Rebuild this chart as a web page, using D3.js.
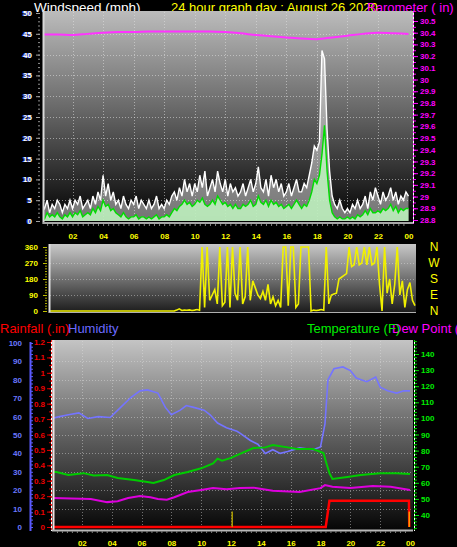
<!DOCTYPE html>
<html><head><meta charset="utf-8">
<script src="https://cdn.jsdelivr.net/npm/d3@7"></script>
<style>html,body{margin:0;padding:0;background:#000;}svg{display:block;}text{font-family:"Liberation Sans",Arial,sans-serif;}</style>
</head><body><svg id="c" width="457" height="547"></svg>
<script>
// ---------- DATA ----------
const hourTickValues = [2,4,6,8,10,12,14,16,18,20,22,24];
const hourTickLabels = ["02","04","06","08","10","12","14","16","18","20","22","00"];
// wind every 10 minutes (mph)
const windGust = [
4,3,5,2,4,3, 5,4,2,4,3,5, 3,5,4,6,3,4, 5,3,6,4,7,5, 11,6,9,5,7,4, 5,3,6,4,3,5,
4,6,3,5,4,3, 5,3,4,6,3,4, 3,5,4,6,7,5, 8,6,10,7,9,6, 9,7,11,8,12,6, 8,10,7,12,9,7,
10,6,9,7,8,6, 7,9,6,8,10,7, 9,13,8,7,10,6, 11,8,10,7,9,6, 7,9,6,8,10,7, 7,9,8,11,14,18,
17,19,41,39,22,12, 6,4,3,5,3,2, 3,2,4,3,5,3, 4,6,3,7,5,8, 6,4,7,5,6,8, 5,7,4,6,5,7, 6];
const windAvg = [
1,0.5,2,1,1.5,1, 2,1,0.5,1.5,1,2, 1,2,1.5,2.5,1,1.5, 2,1.5,3,2,3.5,2.5, 5,3.5,4,2.5,3,2, 1.5,1,2,1,0.5,1,
1,1.5,0.5,1,1,0.5, 1,0.5,1,1.5,0.5,1, 1,1.5,1,2,3,2.5, 3.5,4,5,4,4.5,3.5, 4,5,4.5,5.5,4,3.5, 4,5,4,6,5,4,
4.5,3.5,4,3,4,3, 3,4,3.5,4,5,3.5, 4,6,4.5,4,5,3.5, 5,4,4.5,3.5,4,3, 3.5,4,3,4,5,4, 3,4,3.5,5,7,10,
9,11,16,23,12,5, 2,1,0.5,1,0.5,0.5, 1,0.5,1,0.5,1.5,1, 1.5,2.5,1.5,3,2,2, 2.5,2,3,2.5,3,4, 2.5,3.5,2,3,2.5,3, 3];
// wind direction every 10 minutes (degrees)
const windDir = [
0,0,0,0,0,0, 0,0,0,0,0,0, 0,0,0,0,0,0, 0,0,0,0,0,0, 0,0,0,0,0,0, 0,0,0,0,0,0,
0,0,0,0,0,0, 0,0,0,0,0,0, 0,0,5,12,3,5, 4,6,3,5,8,4, 360,20,360,60,90,120, 40,360,30,50,360,20,
360,100,60,360,40,80, 360,60,170,130,90,70, 110,60,150,40,80,30, 60,20,360,360,30,360, 360,20,40,360,360,360, 360,0,5,3,5,8,
4,360,40,90,95,100, 180,190,200,210,360,250, 260,360,260,270,360,260, 360,260,270,360,150,0, 360,100,180,40,150,360, 90,170,20,120,160,60, 30];
const baroHour = [0,1,2,3,4,5,6,7,8,9,10,11,12,13,14,15,16,17,18,19,20,21,22,23,24];
const baroVal = [30.385,30.385,30.38,30.39,30.40,30.405,30.405,30.41,30.41,30.41,30.41,30.41,30.405,30.395,30.38,30.37,30.36,30.35,30.345,30.36,30.375,30.39,30.40,30.395,30.39];
const humHour = [0,0.5,1.1,1.8,2.4,3.1,3.9,4.6,5.3,5.9,6.4,7.1,7.6,8.0,8.6,9.0,9.5,10.2,10.6,11.1,11.7,12.4,12.6,13.3,13.8,14.3,14.8,15.3,15.8,16.6,17.5,18.0,18.3,18.5,18.9,19.5,20.0,20.4,21.1,21.7,22.0,22.5,23.1,23.6,24];
const humVal = [59,60,61,62,59,60,59.5,65,70.5,74,74.5,72.8,65,61,63.5,66,65,63.5,61,56.5,54,52,51,47,45,40,42,40,41,43,42,43.5,56,80,86,87,85,81,79,81.5,76,74,72.8,74,74];
const tempHour = [0,0.3,1.1,2.1,2.8,3.7,4.4,5.5,6.4,6.8,7.5,8.2,9.1,10.0,10.8,11.1,11.4,12.0,12.6,13.5,14.3,14.8,15.8,16.4,17.5,18.2,18.4,18.6,18.8,19.8,20.7,22.0,23.1,24];
const tempVal = [66.7,66.7,64.8,66,64.5,64.8,63,61.7,60.5,59.9,61.7,64.8,66.7,69,72,75,73.8,75.5,78,81.6,82,83.5,82,81,81,78.5,72,66,62.4,63.6,64.8,66,66,65.5];
const dewHour = [0,1.3,2.6,3.7,4.4,5.1,5.9,6.6,7.1,7.7,8.2,9.1,10.0,10.8,11.7,12.6,13.5,14.8,16.6,18.0,18.3,18.8,20.0,21.5,22.7,24];
const dewVal = [50.6,50.2,50,48,48.5,50.6,51.8,51,50,49.5,51,54.3,55.5,56.7,56,56.7,57,55,54.3,56.7,58.6,57.5,56.7,58,57.5,55.5];
const rainHour = [0,18.35,18.6,23.93,23.95];
const rainVal = [0,0,0.17,0.17,0];
const rateHour = [12.08,23.95];
const rateVal = [0.1,0.1];
const rateColor = ["#b0a000","#ff9900"];
const compassLabels = ["N","E","S","W","N"];

// ---------- SETUP ----------
const svg = d3.select("#c");
svg.append("rect").attr("width",457).attr("height",547).attr("fill","#000");
const defs = svg.append("defs");
function grad(id, stops){
  const g = defs.append("linearGradient").attr("id",id).attr("x1",0).attr("y1",0).attr("x2",0).attr("y2",1);
  stops.forEach(s=>g.append("stop").attr("offset",s[0]).attr("stop-color",s[1]));
}
grad("gTop",[[0,"#bcbcbc"],[0.45,"#6a6a6a"],[1,"#000"]]);
grad("gMid",[[0,"#c8c8c8"],[1,"#1a1a1a"]]);
grad("gBot",[[0,"#c4c4c4"],[0.5,"#606060"],[1,"#050505"]]);
function clip(id,x0,y0,x1,y1){defs.append("clipPath").attr("id",id).append("rect").attr("x",x0).attr("y",y0).attr("width",x1-x0).attr("height",y1-y0);}
const tx = 10/60;
const font = "Liberation Sans, Arial, sans-serif";

// ---------- TITLES ----------
svg.append("text").attr("x",34).attr("y",12).attr("fill","#fff").attr("font-size",13.5).text("Windspeed (mph)");
svg.append("text").attr("x",171).attr("y",12).attr("fill","#ffff00").attr("font-size",13).text("24 hour graph day : August 26 2020");
svg.append("text").attr("x",367).attr("y",12).attr("fill","#ff00ff").attr("font-size",13).text("Barometer ( in)");
svg.append("text").attr("x",0).attr("y",333).attr("fill","#ff0000").attr("font-size",13).text("Rainfall (.in)");
svg.append("text").attr("x",68).attr("y",333).attr("fill","#6a6aff").attr("font-size",13).text("Humidity");
svg.append("text").attr("x",392).attr("y",333).attr("fill","#ff00ff").attr("font-size",13).text("Dew Point (F)");
svg.append("text").attr("x",307).attr("y",333).attr("fill","#00ee00").attr("font-size",13).text("Temperature (F)");

function styleAxis(g, color, tickColor, size){
  g.select(".domain").remove();
  g.selectAll("line").attr("stroke",tickColor);
  g.selectAll("text").attr("fill",color).attr("font-size",size||8).attr("font-weight","bold").attr("font-family",font);
}
function hGrid(g, scale, vals, x0, x1, col){
  g.selectAll(null).data(vals).enter().append("line").attr("x1",x0).attr("x2",x1)
   .attr("y1",d=>Math.round(scale(d))+0.5).attr("y2",d=>Math.round(scale(d))+0.5)
   .attr("stroke",col).attr("stroke-dasharray","1,2");
}
function vGrid(g, scale, vals, y0, y1, col){
  g.selectAll(null).data(vals).enter().append("line").attr("y1",y0).attr("y2",y1)
   .attr("x1",d=>Math.round(scale(d))+0.5).attr("x2",d=>Math.round(scale(d))+0.5)
   .attr("stroke",col).attr("stroke-dasharray","1,2");
}

// ---------- TOP PANEL ----------
const xTop = d3.scaleLinear().domain([0,24]).range([42,408.5]);
const windY = d3.scaleLinear().domain([0,50]).range([221,13]);
const baroY = d3.scaleLinear().domain([28.8,30.5]).range([220,21]);
svg.append("rect").attr("x",43).attr("y",11).attr("width",370).attr("height",213).attr("fill","url(#gTop)");
const gridTop = svg.append("g");
hGrid(gridTop, windY, d3.range(5,50,5), 44, 412, "rgba(225,225,225,0.55)");
vGrid(gridTop, xTop, d3.range(2,24,2), 12, 222, "rgba(225,225,225,0.55)");
clip("cTop",44,11,413,222);
const pTop = svg.append("g").attr("clip-path","url(#cTop)");
const wi = windGust.map((d,i)=>i);
pTop.append("path").datum(wi).attr("fill","rgba(255,255,255,0.45)")
  .attr("d",d3.area().x(i=>xTop(i*tx)).y0(windY(0)).y1(i=>windY(windGust[i])));
pTop.append("path").datum(wi).attr("fill","none").attr("stroke","#ffffff").attr("stroke-width",1.4)
  .attr("d",d3.line().x(i=>xTop(i*tx)).y(i=>windY(windGust[i])));
pTop.append("path").datum(wi).attr("fill","rgba(190,240,190,0.9)")
  .attr("d",d3.area().x(i=>xTop(i*tx)).y0(windY(0)).y1(i=>windY(windAvg[i])));
pTop.append("path").datum(wi).attr("fill","none").attr("stroke","#00dd00").attr("stroke-width",1.4)
  .attr("d",d3.line().x(i=>xTop(i*tx)).y(i=>windY(windAvg[i])));
pTop.append("path").datum(baroHour.map((h,i)=>i)).attr("fill","none").attr("stroke","#ff33ff").attr("stroke-width",2)
  .attr("d",d3.line().curve(d3.curveMonotoneX).x(i=>xTop(baroHour[i])).y(i=>baroY(baroVal[i])));
// frame
svg.append("line").attr("x1",43.5).attr("x2",43.5).attr("y1",11).attr("y2",224).attr("stroke","#d8d8d8").attr("stroke-width",2);
svg.append("line").attr("x1",43).attr("x2",413).attr("y1",223).attr("y2",223).attr("stroke","#a8a8a8").attr("stroke-width",2);
// left axis
const lm = svg.append("g").attr("transform","translate(40,0)").call(d3.axisLeft(windY).tickValues(d3.range(0,51,1)).tickSize(2).tickFormat(""));
styleAxis(lm,"#fff","#909090");
const la = svg.append("g").attr("transform","translate(40,0)").call(d3.axisLeft(windY).tickValues(d3.range(0,51,5)).tickSize(4).tickPadding(4));
styleAxis(la,"#ffffff","#a0a0a0");
la.selectAll(".tick text").each(function(){
  const c=this.cloneNode(true); d3.select(c).attr("fill","#3a5cff").attr("x",+d3.select(this).attr("x")-1);
  this.parentNode.insertBefore(c,this);
});
// right axis barometer
svg.append("line").attr("x1",413.5).attr("x2",413.5).attr("y1",11).attr("y2",224).attr("stroke","#ffffff");
svg.append("line").attr("x1",413.5).attr("x2",413.5).attr("y1",11).attr("y2",224).attr("stroke","#ff30ff").attr("stroke-dasharray","2,2");
const rm = svg.append("g").attr("transform","translate(414,0)").call(d3.axisRight(baroY).tickValues(d3.range(576,611).map(d=>d/20)).tickSize(2).tickFormat(""));
styleAxis(rm,"#ff00ff","#ff00ff");
const ra = svg.append("g").attr("transform","translate(414,0)").call(d3.axisRight(baroY).tickValues(d3.range(288,306).map(d=>d/10)).tickSize(4).tickPadding(2).tickFormat(d=>Number.isInteger(d)?String(d):d.toFixed(1)));
styleAxis(ra,"#ff00ff","#ff00ff");
// bottom axis
const bm = svg.append("g").attr("transform","translate(0,224)").call(d3.axisBottom(xTop).tickValues(d3.range(1,72).map(d=>d/3)).tickSize(2).tickFormat(""));
styleAxis(bm,"#ff0","#808080");
const ba = svg.append("g").attr("transform","translate(0,224)").call(d3.axisBottom(xTop).tickValues(hourTickValues).tickSize(0).tickPadding(9).tickFormat((d,i)=>hourTickLabels[i]));
styleAxis(ba,"#ffff00","#808080");

// ---------- MIDDLE PANEL ----------
const xMid = d3.scaleLinear().domain([0,24]).range([50,415]);
const dirY = d3.scaleLinear().domain([0,360]).range([311,247]);
svg.append("rect").attr("x",49).attr("y",244).attr("width",367).attr("height",69).attr("fill","url(#gMid)");
const gridMid = svg.append("g");
hGrid(gridMid, dirY, [90,180,270], 50, 415, "rgba(225,225,225,0.45)");
clip("cMid",50,244,416,312);
const pMid = svg.append("g").attr("clip-path","url(#cMid)");
pMid.append("path").datum(windDir.map((d,i)=>i)).attr("fill","none").attr("stroke","#f0f000").attr("stroke-width",1.6)
  .attr("d",d3.line().x(i=>xMid(i*tx)).y(i=>dirY(windDir[i])));
svg.append("line").attr("x1",49.5).attr("x2",49.5).attr("y1",244).attr("y2",313).attr("stroke","#e0e0e0").attr("stroke-width",2);
svg.append("line").attr("x1",49).attr("x2",416).attr("y1",312.5).attr("y2",312.5).attr("stroke","#b0b0b0").attr("stroke-width",1);
const mm = svg.append("g").attr("transform","translate(47,0)").call(d3.axisLeft(dirY).tickValues(d3.range(0,361,15)).tickSize(2).tickFormat(""));
styleAxis(mm,"#ff0","#b0b000");
const ma = svg.append("g").attr("transform","translate(47,0)").call(d3.axisLeft(dirY).tickValues([0,90,180,270,360]).tickSize(4).tickPadding(5));
styleAxis(ma,"#ffff00","#c0c000");
const ca = svg.append("g").attr("transform","translate(434,0)").call(d3.axisRight(dirY).tickValues([0,90,180,270,360]).tickSize(0).tickPadding(0).tickFormat((d,i)=>compassLabels[i]));
ca.select(".domain").remove();
ca.selectAll("text").attr("fill","#ffff00").attr("font-size",12).attr("font-family",font).attr("text-anchor","middle").attr("x",0);

// ---------- BOTTOM PANEL ----------
const xBot = d3.scaleLinear().domain([0,24]).range([52,410]);
const rainY = d3.scaleLinear().domain([0,1.2]).range([527,342]);
const humY = d3.scaleLinear().domain([0,100]).range([527,343]);
const tempY = d3.scaleLinear().domain([40,140]).range([515,354]);
svg.append("rect").attr("x",52).attr("y",340).attr("width",361).attr("height",191).attr("fill","url(#gBot)");
const gridBot = svg.append("g");
hGrid(gridBot, humY, d3.range(10,100,10), 53, 412, "rgba(225,225,225,0.45)");
vGrid(gridBot, xBot, d3.range(2,24,2), 341, 529, "rgba(225,225,225,0.45)");
clip("cBot",53,340,413,530);
const pBot = svg.append("g").attr("clip-path","url(#cBot)");
pBot.append("path").datum(humHour.map((h,i)=>i)).attr("fill","none").attr("stroke","#7474ff").attr("stroke-width",1.6)
  .attr("d",d3.line().x(i=>xBot(humHour[i])).y(i=>humY(humVal[i])));
pBot.append("path").datum(tempHour.map((h,i)=>i)).attr("fill","none").attr("stroke","#00cc00").attr("stroke-width",2)
  .attr("d",d3.line().x(i=>xBot(tempHour[i])).y(i=>tempY(tempVal[i])));
pBot.append("path").datum(dewHour.map((h,i)=>i)).attr("fill","none").attr("stroke","#dd00dd").attr("stroke-width",2)
  .attr("d",d3.line().x(i=>xBot(dewHour[i])).y(i=>tempY(dewVal[i])));
pBot.append("path").datum(rainHour.map((h,i)=>i)).attr("fill","none").attr("stroke","#ff0000").attr("stroke-width",2.5)
  .attr("d",d3.line().x(i=>xBot(rainHour[i])).y(i=>rainY(rainVal[i])));
pBot.selectAll(null).data(rateHour.map((h,i)=>i)).enter().append("line")
  .attr("x1",i=>xBot(rateHour[i])).attr("x2",i=>xBot(rateHour[i]))
  .attr("y1",rainY(0)).attr("y2",i=>rainY(rateVal[i])).attr("stroke",i=>rateColor[i]).attr("stroke-width",1.5);
svg.append("line").attr("x1",53.5).attr("x2",53.5).attr("y1",340).attr("y2",531).attr("stroke","#f0e0e0").attr("stroke-width",2);
svg.append("line").attr("x1",52).attr("x2",413).attr("y1",530.5).attr("y2",530.5).attr("stroke","#b8b8b8").attr("stroke-width",2);
// humidity axis (blue)
svg.append("line").attr("x1",30.5).attr("x2",30.5).attr("y1",342).attr("y2",531).attr("stroke","#5a5aff").attr("stroke-width",2);
const hm = svg.append("g").attr("transform","translate(31,0)").call(d3.axisRight(humY).tickValues(d3.range(0,101,2)).tickSize(2).tickFormat(""));
styleAxis(hm,"#6a6aff","#5a5aff");
const ha = svg.append("g").attr("transform","translate(31,0)").call(d3.axisLeft(humY).tickValues(d3.range(0,101,10)).tickSize(0).tickPadding(9));
styleAxis(ha,"#6a78ff","#5a5aff");
// rain axis (red)
svg.append("line").attr("x1",51.5).attr("x2",51.5).attr("y1",340).attr("y2",531).attr("stroke","#ffffff");
svg.append("line").attr("x1",51.5).attr("x2",51.5).attr("y1",340).attr("y2",531).attr("stroke","#ff2020").attr("stroke-dasharray","2,2");
const rnm = svg.append("g").attr("transform","translate(51,0)").call(d3.axisLeft(rainY).tickValues(d3.range(0,25).map(d=>d/20)).tickSize(2).tickFormat(""));
styleAxis(rnm,"#e00","#cc0000");
const rna = svg.append("g").attr("transform","translate(51,0)").call(d3.axisLeft(rainY).tickValues(d3.range(0,13).map(d=>d/10)).tickSize(4).tickPadding(2).tickFormat(d=>Number.isInteger(d)?String(d):d.toFixed(1)));
styleAxis(rna,"#ee0000","#dd0000");
// temperature axis (green)
svg.append("line").attr("x1",414.5).attr("x2",414.5).attr("y1",340).attr("y2",531).attr("stroke","#ffffff");
svg.append("line").attr("x1",414.5).attr("x2",414.5).attr("y1",340).attr("y2",531).attr("stroke","#00dd00").attr("stroke-dasharray","2,2");
const tm = svg.append("g").attr("transform","translate(415,0)").call(d3.axisRight(tempY).tickValues(d3.range(30,150,2).filter(d=>tempY(d)>=340&&tempY(d)<=531)).tickSize(2).tickFormat(""));
styleAxis(tm,"#0e0","#00cc00");
const ta = svg.append("g").attr("transform","translate(415,0)").call(d3.axisRight(tempY).tickValues(d3.range(40,141,10)).tickSize(4).tickPadding(2));
styleAxis(ta,"#00ee00","#00dd00");
// bottom x axis
const xbm = svg.append("g").attr("transform","translate(0,531)").call(d3.axisBottom(xBot).tickValues(d3.range(1,72).map(d=>d/3)).tickSize(2).tickFormat(""));
styleAxis(xbm,"#ff0","#808080");
const xba = svg.append("g").attr("transform","translate(0,531)").call(d3.axisBottom(xBot).tickValues(hourTickValues).tickSize(0).tickPadding(9).tickFormat((d,i)=>hourTickLabels[i]));
styleAxis(xba,"#ffff00","#808080");
</script></body></html>
